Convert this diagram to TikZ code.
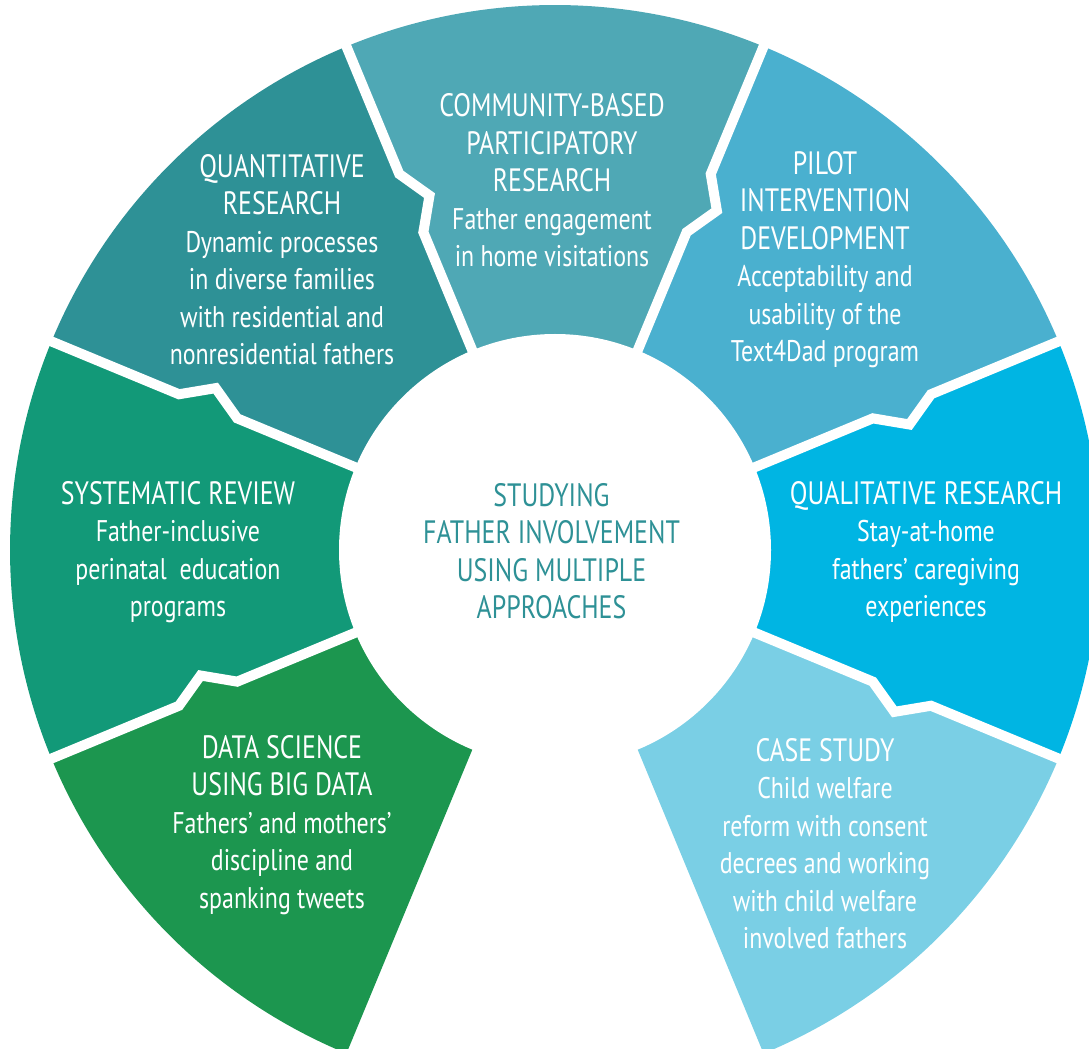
\documentclass[tikz,border=0pt]{standalone}
\usepackage{fontspec}
\setmainfont{PT Sans}[FakeStretch=0.80]
\usepackage{tikz}
\definecolor{quantcol}{rgb}{0.18,0.57,0.59}
\definecolor{commcol}{rgb}{0.31,0.66,0.71}
\definecolor{pilotcol}{rgb}{0.29,0.69,0.81}
\definecolor{qualcol}{rgb}{0.0,0.71,0.89}
\definecolor{casecol}{rgb}{0.48,0.81,0.90}
\definecolor{datacol}{rgb}{0.11,0.59,0.31}
\definecolor{systcol}{rgb}{0.07,0.60,0.47}
\newcommand{\segtitle}[1]{{\fontsize{9.2}{10.67}\selectfont #1}}

\begin{document}
\begin{tikzpicture}[line cap=round,line join=round,x=1.0cm,y=1.0cm,
	sepline/.style={line width=0.1cm,color=white,line join=miter,line cap=butt},
	lbl/.style={text=white,align=center,font=\fontsize{8.5}{10.67}\selectfont}]
	\useasboundingbox (-5.55,-4.98) rectangle (5.34,5.50);
	% case study 292.5-337.5
	\fill[casecol] (0,0) -- (292.5:5.45) arc[start angle=292.5,end angle=337.5,radius=5.45] -- cycle;
	% qualitative 337.5-382.5
	\fill[qualcol] (0,0) -- (337.5:5.45) arc[start angle=337.5,end angle=382.5,radius=5.45] -- cycle;
	% pilot 22.5-67.5
	\fill[pilotcol] (0,0) -- (22.5:5.45) arc[start angle=22.5,end angle=67.5,radius=5.45] -- cycle;
	% community 67.5-112.5
	\fill[commcol] (0,0) -- (67.5:5.45) arc[start angle=67.5,end angle=112.5,radius=5.45] -- cycle;
	% quantitative 112.5-157.5
	\fill[quantcol] (0,0) -- (112.5:5.45) arc[start angle=112.5,end angle=157.5,radius=5.45] -- cycle;
	% systematic 157.5-202.5
	\fill[systcol] (0,0) -- (157.5:5.45) arc[start angle=157.5,end angle=202.5,radius=5.45] -- cycle;
	% data 202.5-247.5
	\fill[datacol] (0,0) -- (202.5:5.45) arc[start angle=202.5,end angle=247.5,radius=5.45] -- cycle;

	% notches
	\fill[qualcol] (337.5:4.07) -- (334.5:3.76) -- (337.5:3.44) -- (339.5:3.44) -- (339.5:4.07) -- cycle;
	\fill[pilotcol] (22.5:4.07) -- (19.5:3.76) -- (22.5:3.44) -- (24.5:3.44) -- (24.5:4.07) -- cycle;
	\fill[commcol] (67.5:4.07) -- (64.5:3.76) -- (67.5:3.44) -- (69.5:3.44) -- (69.5:4.07) -- cycle;
	\fill[quantcol] (112.5:4.07) -- (109.5:3.76) -- (112.5:3.44) -- (114.5:3.44) -- (114.5:4.07) -- cycle;
	\fill[systcol] (157.5:4.07) -- (154.5:3.76) -- (157.5:3.44) -- (159.5:3.44) -- (159.5:4.07) -- cycle;
	\fill[datacol] (202.5:4.07) -- (199.5:3.76) -- (202.5:3.44) -- (204.5:3.44) -- (204.5:4.07) -- cycle;

	\draw[sepline] (337.5:5.6) -- (337.5:4.07) -- (334.5:3.76) -- (337.5:3.44) -- (337.5:2.0);
	\draw[sepline] (22.5:5.6) -- (22.5:4.07) -- (19.5:3.76) -- (22.5:3.44) -- (22.5:2.0);
	\draw[sepline] (67.5:5.6) -- (67.5:4.07) -- (64.5:3.76) -- (67.5:3.44) -- (67.5:2.0);
	\draw[sepline] (112.5:5.6) -- (112.5:4.07) -- (109.5:3.76) -- (112.5:3.44) -- (112.5:2.0);
	\draw[sepline] (157.5:5.6) -- (157.5:4.07) -- (154.5:3.76) -- (157.5:3.44) -- (157.5:2.0);
	\draw[sepline] (202.5:5.6) -- (202.5:4.07) -- (199.5:3.76) -- (202.5:3.44) -- (202.5:2.0);

	\fill[white] (0,0) circle (2.16);

	\node[lbl] (comm) at (-0.03,3.695) {\segtitle{COMMUNITY-BASED}\\\segtitle{PARTICIPATORY}\\\segtitle{RESEARCH}\\Father engagement\\in home visitations};
	\node[lbl] (quant) at (-2.73,2.905) {\segtitle{QUANTITATIVE}\\\segtitle{RESEARCH}\\Dynamic processes\\in diverse families\\with residential and\\nonresidential fathers};
	\node[lbl] (pilot) at (2.70,2.905) {\segtitle{PILOT}\\\segtitle{INTERVENTION}\\\segtitle{DEVELOPMENT}\\Acceptability and\\usability of the\\Text4Dad program};
	\node[lbl] (syst) at (-3.77,-0.02) {\segtitle{SYSTEMATIC REVIEW}\\Father-inclusive\\perinatal~ education\\programs};
	\node[lbl] (qual) at (3.71,-0.02) {\segtitle{QUALITATIVE RESEARCH}\\Stay-at-home\\fathers’ caregiving\\experiences};
	\node[lbl] (data) at (-2.73,-2.75) {\segtitle{DATA SCIENCE}\\\segtitle{USING BIG DATA}\\Fathers’ and mothers’\\discipline and\\spanking tweets};
	\node[lbl] (case) at (2.70,-2.935) {\segtitle{CASE STUDY}\\Child welfare\\reform with consent\\decrees and working\\with child welfare\\involved fathers};
	\node[lbl,text=quantcol] (hub) at (-0.035,-0.01) {\segtitle{STUDYING}\\\segtitle{FATHER INVOLVEMENT}\\\segtitle{USING MULTIPLE}\\\segtitle{APPROACHES}};
\end{tikzpicture}
\end{document}
